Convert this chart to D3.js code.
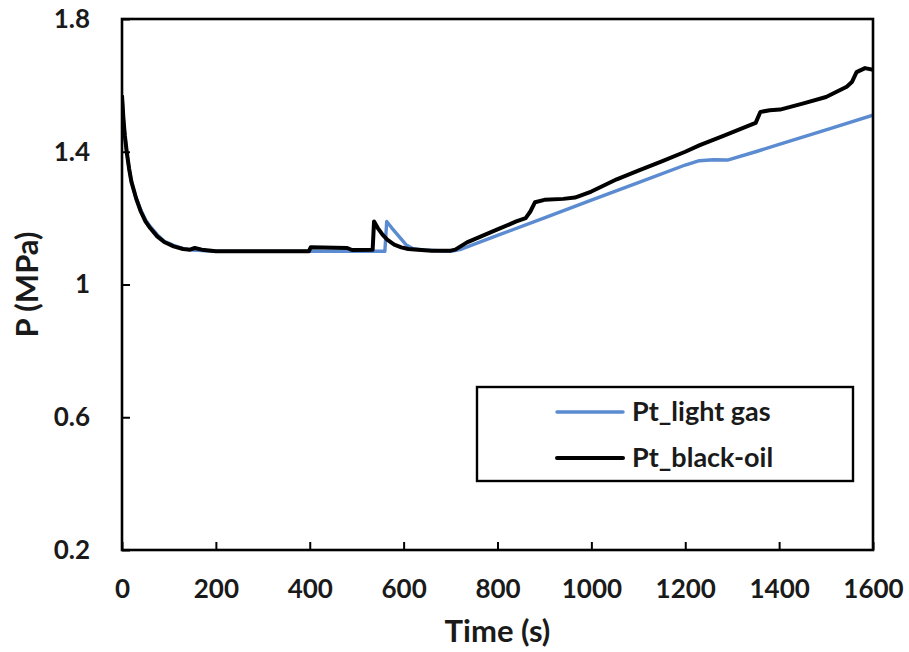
<!DOCTYPE html>
<html><head><meta charset="utf-8">
<script src="https://cdn.jsdelivr.net/npm/d3@7"></script>
<style>body{margin:0;background:#fff;} svg text{font-family:Lato, "Open Sans", sans-serif;font-weight:bold;fill:#1a1a1a;}</style>
</head><body><svg id="c" width="909" height="652"></svg>
<script>
const xTicks = [0,200,400,600,800,1000,1200,1400,1600];
const yTicks = [0.2,0.6,1,1.4,1.8];
const yTickLabels = ["0.2","0.6","1","1.4","1.8"];
const lightTime = [0,3,6,10,15,20,30,40,50,60,75,90,110,130,150,200,300,400,500,560,564,575,590,605,620,650,700,720,800,900,1000,1100,1200,1230,1260,1290,1350,1400,1500,1600];
const lightP = [1.57,1.50,1.45,1.40,1.35,1.31,1.26,1.225,1.195,1.175,1.15,1.13,1.118,1.108,1.104,1.10,1.10,1.10,1.10,1.10,1.19,1.17,1.145,1.12,1.108,1.103,1.10,1.105,1.148,1.201,1.254,1.307,1.36,1.373,1.376,1.375,1.40,1.422,1.466,1.51];
const blackTime = [0,3,6,10,15,20,30,40,50,60,75,90,110,130,145,155,170,200,300,398,402,480,490,534,537,545,555,565,580,595,610,630,660,700,710,735,770,805,840,860,870,880,900,940,965,1000,1054,1100,1150,1200,1231,1280,1338,1350,1360,1380,1402,1450,1500,1544,1555,1565,1583,1600];
const blackP = [1.57,1.50,1.45,1.40,1.35,1.31,1.26,1.22,1.19,1.17,1.145,1.128,1.115,1.107,1.105,1.11,1.105,1.10,1.10,1.10,1.112,1.11,1.104,1.105,1.19,1.17,1.15,1.135,1.12,1.112,1.107,1.105,1.102,1.102,1.105,1.127,1.148,1.169,1.19,1.20,1.22,1.248,1.255,1.258,1.262,1.28,1.317,1.343,1.371,1.40,1.42,1.447,1.48,1.487,1.52,1.525,1.527,1.545,1.565,1.596,1.61,1.64,1.652,1.647];
const seriesNames = ["Pt_light gas","Pt_black-oil"];
const seriesColors = ["#5b8bd0","#000000"];

const svg = d3.select("#c");
const m = {l:122, r:36, t:19, b:102};
const W = 909 - m.l - m.r, H = 652 - m.t - m.b;
const x = d3.scaleLinear().domain([0,1600]).range([m.l, m.l+W]);
const y = d3.scaleLinear().domain([0.2,1.8]).range([m.t+H, m.t]);

svg.append("clipPath").attr("id","clip").append("rect").attr("x",m.l).attr("y",m.t).attr("width",W).attr("height",H);

const line = d3.line().x(d=>x(d[0])).y(d=>y(d[1]));
const series = [d3.zip(lightTime, lightP), d3.zip(blackTime, blackP)];
const widths = [3.4, 4];
series.forEach((s,i)=>{
  svg.append("path").datum(s).attr("d",line).attr("fill","none")
    .attr("stroke",seriesColors[i]).attr("stroke-width",widths[i])
    .attr("stroke-linejoin","round").attr("clip-path","url(#clip)");
});

// frame
svg.append("rect").attr("x",m.l).attr("y",m.t).attr("width",W).attr("height",H)
  .attr("fill","none").attr("stroke","#000").attr("stroke-width",2.6);

// axes
const xa = svg.append("g").attr("transform",`translate(0,${m.t+H})`)
  .call(d3.axisBottom(x).tickValues(xTicks).tickSizeInner(-8).tickSizeOuter(0).tickPadding(30).tickFormat(d3.format("d")));
xa.select(".domain").remove();
xa.selectAll("line").attr("stroke","#000").attr("stroke-width",2);
xa.selectAll("text").attr("font-size",26).attr("fill","#1a1a1a");

const ya = svg.append("g").attr("transform",`translate(${m.l},0)`)
  .call(d3.axisLeft(y).tickValues(yTicks).tickSizeInner(-8).tickSizeOuter(0).tickPadding(32).tickFormat((d,i)=>yTickLabels[i]));
ya.select(".domain").remove();
ya.selectAll("line").attr("stroke","#000").attr("stroke-width",2);
ya.selectAll("text").attr("font-size",26).attr("fill","#1a1a1a");

svg.append("text").attr("x",m.l+W/2).attr("y",642).attr("text-anchor","middle").attr("font-size",31).text("Time (s)");
svg.append("text").attr("transform",`translate(38,${m.t+H/2}) rotate(-90)`).attr("text-anchor","middle").attr("font-size",31).text("P (MPa)");

// legend
const lg = svg.append("g");
lg.append("rect").attr("x",477).attr("y",387).attr("width",376).attr("height",94)
  .attr("fill","#fff").attr("stroke","#000").attr("stroke-width",2.4);
[412,458].forEach((yy,i)=>{
  lg.append("line").attr("x1",557).attr("x2",623).attr("y1",yy).attr("y2",yy)
    .attr("stroke",seriesColors[i]).attr("stroke-width",widths[i]).attr("stroke-linecap","round");
  lg.append("text").attr("x",632).attr("y",yy).attr("dy","0.35em").attr("font-size",27).text(seriesNames[i]);
});
</script></body></html>
